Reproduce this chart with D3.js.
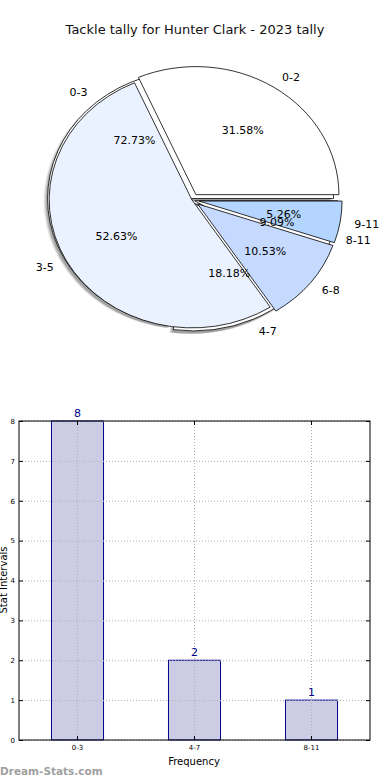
<!DOCTYPE html>
<html>
<head>
<meta charset="utf-8">
<script src="https://cdn.jsdelivr.net/npm/d3@7"></script>
<style>
  html, body { margin: 0; padding: 0; background: #fff; }
  svg { display: block; font-family: "DejaVu Sans", sans-serif; }
</style>
</head>
<body>
<svg id="chart" width="390" height="780"></svg>
<script>
// ---------- data ----------
const chartTitle = "Tackle tally for Hunter Clark - 2023 tally";
const pieALabels = ["0-2", "3-5", "6-8", "9-11"];
const pieAValues = [6, 10, 2, 1];
const pieAColors = ["#ffffff", "#ebf2ff", "#c6d9ff", "#b3d5ff"];
const pieAExplode = [0.05, 0.0, 0.05, 0.05];
const pieBLabels = ["0-3", "4-7", "8-11"];
const pieBValues = [8, 2, 1];
const pieBColors = ["#ffffff", "#ffffff", "#ffffff"];
const pieBExplode = [0.015, 0.025, 0.02];
const barCategories = ["0-3", "4-7", "8-11"];
const barValues = [8, 2, 1];
const yTicks = [0, 1, 2, 3, 4, 5, 6, 7, 8];

const svg = d3.select("#chart");

// ---------- title ----------
svg.append("text").attr("x", 195).attr("y", 34).attr("text-anchor", "middle")
  .attr("font-size", 13).attr("fill", "#111").text(chartTitle);

// ---------- pies ----------
const cx = 192, cy = 200, rx = 143, ry = 128;
const pieGen = d3.pie().sort(null).startAngle(Math.PI / 2).endAngle(Math.PI / 2 - 2 * Math.PI);
const arcGen = d3.arc().innerRadius(0).outerRadius(1);

function slices(values, labels, colors, explode) {
  const total = d3.sum(values);
  return pieGen(values).map((d, i) => {
    const mid = (d.startAngle + d.endAngle) / 2;
    const ux = Math.sin(mid), uy = -Math.cos(mid);
    return Object.assign(d, {
      label: labels[i], color: colors[i], ex: explode[i],
      ux, uy, pct: (values[i] / total * 100).toFixed(2) + "%"
    });
  });
}
const sA = slices(pieAValues, pieALabels, pieAColors, pieAExplode);
const sB = slices(pieBValues, pieBLabels, pieBColors, pieBExplode);

const pieRoot = svg.append("g").attr("transform", `translate(${cx},${cy}) scale(${rx},${ry})`);

// shadow of pie B
const defs = svg.append("defs");
defs.append("filter").attr("id", "blur").attr("x", "-0.1").attr("y", "-0.1").attr("width", "1.2").attr("height", "1.2")
  .append("feGaussianBlur").attr("stdDeviation", 0.006);
pieRoot.append("g").attr("transform", "translate(-0.018,0.022)")
  .selectAll("path").data(sB).join("path")
  .attr("transform", d => `translate(${d.ux * d.ex},${d.uy * d.ex})`)
  .attr("d", arcGen).attr("fill", "#555").attr("opacity", 0.55).attr("filter", "url(#blur)");

function drawSlices(data) {
  pieRoot.append("g").selectAll("path").data(data).join("path")
    .attr("transform", d => `translate(${d.ux * d.ex},${d.uy * d.ex})`)
    .attr("d", arcGen).attr("fill", d => d.color)
    .attr("stroke", "#000").attr("stroke-width", 0.8)
    .attr("vector-effect", "non-scaling-stroke").attr("stroke-linejoin", "miter");
}
drawSlices(sB);
drawSlices(sA);

function drawLabels(data) {
  const g = svg.append("g").attr("font-size", 11).attr("fill", "#000");
  g.selectAll("text.lab").data(data).join("text").attr("class", "lab")
    .attr("x", d => cx + rx * (d.ux * (1.1 + d.ex)))
    .attr("y", d => cy + ry * (d.uy * (1.1 + d.ex)))
    .attr("dy", "0.35em")
    .attr("text-anchor", d => d.ux > 0 ? "start" : "end")
    .text(d => d.label);
  g.selectAll("text.pct").data(data).join("text").attr("class", "pct")
    .attr("x", d => cx + rx * (d.ux * (0.6 + d.ex)))
    .attr("y", d => cy + ry * (d.uy * (0.6 + d.ex)))
    .attr("dy", "0.35em").attr("text-anchor", "middle")
    .text(d => d.pct);
}
drawLabels(sB);
drawLabels(sA);

// ---------- bar chart ----------
const L = 19, R = 370, T = 421, B = 740;
const x = d3.scaleBand().domain(barCategories).range([L, R]).paddingInner(0.555).paddingOuter(0.2775);
const y = d3.scaleLinear().domain([0, 8]).range([B, T]);

const bars = svg.append("g");
bars.selectAll("rect").data(barValues).join("rect")
  .attr("x", (d, i) => x(barCategories[i]))
  .attr("y", d => y(d))
  .attr("width", x.bandwidth())
  .attr("height", d => B - y(d))
  .attr("fill", "#ccccE5").attr("stroke", "#00008b").attr("stroke-width", 1);

// grid
const grid = svg.append("g").attr("stroke", "#b0b0b0").attr("stroke-width", 1).attr("stroke-dasharray", "1,2");
grid.selectAll("line.h").data(yTicks).join("line").attr("class", "h")
  .attr("x1", L).attr("x2", R).attr("y1", d => y(d) + 0.5).attr("y2", d => y(d) + 0.5);
grid.selectAll("line.v").data(barCategories).join("line").attr("class", "v")
  .attr("x1", d => x(d) + x.bandwidth() / 2).attr("x2", d => x(d) + x.bandwidth() / 2)
  .attr("y1", T).attr("y2", B);

// axes
const yAxis = d3.axisLeft(y).tickValues(yTicks).tickFormat(d3.format("d")).tickSize(-4).tickPadding(4);
const gy = svg.append("g").attr("transform", `translate(${L},0)`).call(yAxis);
gy.select(".domain").remove();
gy.selectAll("text").attr("font-size", 7).attr("font-family", "DejaVu Sans").attr("fill", "#000");
const yAxisR = d3.axisRight(y).tickValues(yTicks).tickFormat("").tickSize(-4);
const gyr = svg.append("g").attr("transform", `translate(${R},0)`).call(yAxisR);
gyr.select(".domain").remove();

const xAxis = d3.axisBottom(x).tickSize(-4).tickPadding(5);
const gx = svg.append("g").attr("transform", `translate(0,${B})`).call(xAxis);
gx.select(".domain").remove();
gx.selectAll("text").attr("font-size", 7).attr("font-family", "DejaVu Sans").attr("fill", "#000");
const xAxisT = d3.axisTop(x).tickSize(-4).tickFormat("");
const gxt = svg.append("g").attr("transform", `translate(0,${T})`).call(xAxisT);
gxt.select(".domain").remove();

svg.append("rect").attr("x", L).attr("y", T).attr("width", R - L).attr("height", B - T)
  .attr("fill", "none").attr("stroke", "#000").attr("stroke-width", 1);

// value labels
svg.append("g").selectAll("text").data(barValues).join("text")
  .attr("x", (d, i) => x(barCategories[i]) + x.bandwidth() / 2)
  .attr("y", d => y(d) - 4)
  .attr("text-anchor", "middle").attr("font-size", 11).attr("fill", "#00008b")
  .text(d => d);

// axis labels
svg.append("text").attr("x", 194).attr("y", 765).attr("text-anchor", "middle")
  .attr("font-size", 10).attr("fill", "#000").text("Frequency");
svg.append("text").attr("transform", "translate(7,580) rotate(-90)").attr("text-anchor", "middle")
  .attr("font-size", 10).attr("fill", "#000").text("Stat Intervals");

// watermark
svg.append("text").attr("x", 0).attr("y", 775).attr("font-size", 10.5).attr("font-weight", "bold")
  .attr("fill", "#a0a0a0").text("Dream-Stats.com");
</script>
</body>
</html>
